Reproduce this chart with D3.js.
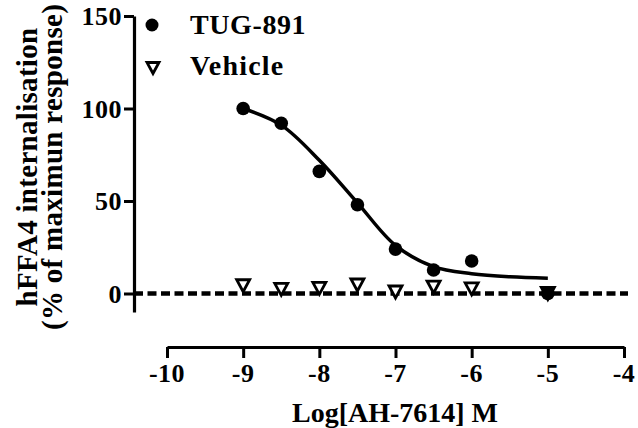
<!DOCTYPE html>
<html>
<head>
<meta charset="utf-8">
<script src="https://cdn.jsdelivr.net/npm/d3@7"></script>
</head>
<body style="margin:0">
<svg id="chart" width="638" height="428"></svg>
<script>
// ---- data ----
const logConc = [-9, -8.5, -8, -7.5, -7, -6.5, -6, -5];
const tugValues = [100, 92, 66, 48, 24, 12.7, 17.6, 0];
const vehicleValues = [4.2, 2.2, 2.8, 4.6, 0.8, 3.5, 2.5, 0];
// fitted curve for TUG-891
const fitX = [-9, -8.5, -8, -7.5, -7, -6.5, -6, -5.5, -5];
const fitY = [100, 91, 72, 49, 26, 14.5, 10.7, 9, 8.3];
const xTicks = [-10, -9, -8, -7, -6, -5, -4];
const yTicks = [0, 50, 100, 150];
const seriesNames = ["TUG-891", "Vehicle"];
const xTitle = "Log[AH-7614] M";
const yTitleLines = ["hFFA4 internalisation", "(% of maximun response)"];

const FONT = "Liberation Serif";
const svg = d3.select("#chart");
const x = d3.scaleLinear().domain([-10, -4]).range([167, 624]);
const y = d3.scaleLinear().domain([-10, 150]).range([312, 16]);
const yAxisX = 134, xAxisY = 347;

const labels = [];
yTicks.forEach(t => labels.push({x: yAxisX - 12, y: y(t) + 9, s: 26, a: "end", t: String(t), ls: 0.5}));
xTicks.forEach(t => labels.push({x: x(t), y: 382, s: 26, a: "middle", t: String(t), ls: 0.5}));
labels.push({x: 190, y: 34, s: 28, a: "start", t: seriesNames[0], ls: 0.6});
labels.push({x: 190, y: 75, s: 28, a: "start", t: seriesNames[1], ls: 1.2});
labels.push({x: 395, y: 422, s: 28, a: "middle", t: xTitle, ls: 0});
yTitleLines.forEach((t, i) => labels.push({x: -167, y: 37 + i * 25, s: 29, a: "middle", t, ls: 0.3, r: true}));

svg.selectAll("text.lbl").data(labels).join("text")
  .attr("class", "lbl")
  .attr("x", d => d.x).attr("y", d => d.y)
  .attr("font-size", d => d.s)
  .attr("font-weight", "bold")
  .attr("font-family", FONT)
  .attr("letter-spacing", d => d.ls)
  .attr("text-anchor", d => d.a)
  .attr("transform", d => d.r ? "rotate(-90)" : null)
  .text(d => d.t);

// dashed zero line
svg.append("line")
  .attr("x1", yAxisX).attr("x2", 628)
  .attr("y1", y(0)).attr("y2", y(0))
  .attr("stroke", "#000").attr("stroke-width", 4.5)
  .attr("stroke-dasharray", "9,4.5");

// Y axis
const yAxis = svg.append("g")
  .attr("transform", `translate(${yAxisX},0)`)
  .call(d3.axisLeft(y).tickValues(yTicks).tickSize(10).tickSizeOuter(0).tickFormat(""));
yAxis.select(".domain").attr("stroke-width", 3.2);
yAxis.selectAll(".tick line").attr("stroke-width", 3);
yAxis.selectAll(".tick text").remove();

// X axis
const xAxis = svg.append("g")
  .attr("transform", `translate(0,${xAxisY})`)
  .call(d3.axisBottom(x).tickValues(xTicks).tickSize(11).tickSizeOuter(0).tickFormat(""));
xAxis.select(".domain").attr("stroke-width", 3.2);
xAxis.selectAll(".tick line").attr("stroke-width", 3);
xAxis.selectAll(".tick text").remove();

// fit curve
const line = d3.line().x(d => x(d[0])).y(d => y(d[1])).curve(d3.curveCatmullRom.alpha(0.5));
svg.append("path")
  .datum(fitX.map((v, i) => [v, fitY[i]]))
  .attr("d", line)
  .attr("fill", "none").attr("stroke", "#000").attr("stroke-width", 3.5);

function triPath(cx, cy, w, h) {
  return `M${cx - w / 2},${cy - h / 2}L${cx + w / 2},${cy - h / 2}L${cx},${cy + h / 2}Z`;
}

// vehicle points
svg.append("g").selectAll("path")
  .data(logConc.map((v, i) => [v, vehicleValues[i]]))
  .join("path")
  .attr("d", d => triPath(x(d[0]), y(d[1]), 13, 12))
  .attr("fill", "#fff").attr("stroke", "#000").attr("stroke-width", 2.8);

// TUG-891 points
svg.append("g").selectAll("circle")
  .data(logConc.map((v, i) => [v, tugValues[i]]))
  .join("circle")
  .attr("cx", d => x(d[0])).attr("cy", d => y(d[1])).attr("r", 6.8)
  .attr("fill", "#000");

// legend markers
svg.append("circle").attr("cx", 152).attr("cy", 25).attr("r", 6.5).attr("fill", "#000");
svg.append("path").attr("d", triPath(153, 68, 12, 11))
  .attr("fill", "#fff").attr("stroke", "#000").attr("stroke-width", 2.8);
</script>
</body>
</html>
